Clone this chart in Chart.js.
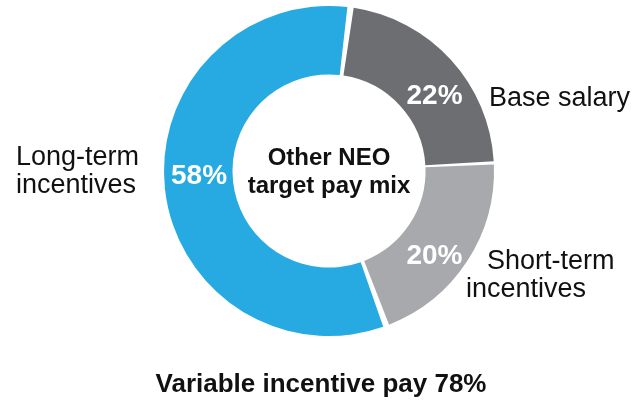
<!DOCTYPE html>
<html>
<head>
<meta charset="utf-8">
<script src="https://cdn.jsdelivr.net/npm/chart.js@4.4.1/dist/chart.umd.min.js"></script>
<style>
  html, body { margin: 0; padding: 0; background: #fff; }
  #wrap { width: 644px; height: 401px; }
</style>
</head>
<body>
<div id="wrap"><canvas id="payMix" width="644" height="401"></canvas></div>
<script>
const categories = ["Base salary", "Short-term incentives", "Long-term incentives"];
const payShares = [22, 20, 58];
const sliceColors = ["#6d6e72", "#a7a9ac", "#27aae1"];
const centerLines = ["Other NEO", "target pay mix"];
const footerText = "Variable incentive pay 78%";

const FONT = "'Liberation Sans', Arial, Helvetica, sans-serif";

// white percent labels inside each slice, nudged a bit off the mid point
const pctNudge = [[9, 13], [-4, 14], [0, -9]];

// outside category labels, split on lines as in the picture
const sideLabels = [
  { lines: ["Base salary"], x: [489], y: 106 },
  { lines: ["Short-term", "incentives"], x: [487, 466], y: 269 },
  { lines: ["Long-term", "incentives"], x: [16, 16], y: 165 },
];

const textPlugin = {
  id: "textPlugin",
  afterDraw(chart) {
    const ctx = chart.ctx;
    const arcs = chart.getDatasetMeta(0).data;
    ctx.save();

    // percentages
    ctx.fillStyle = "#ffffff";
    ctx.font = "bold 28px " + FONT;
    ctx.textAlign = "center";
    ctx.textBaseline = "middle";
    arcs.forEach((arc, i) => {
      const p = arc.tooltipPosition();
      ctx.fillText(payShares[i] + "%", p.x + pctNudge[i][0], p.y + pctNudge[i][1]);
    });

    // category labels
    ctx.fillStyle = "#111111";
    ctx.font = "27px " + FONT;
    ctx.textAlign = "left";
    ctx.textBaseline = "alphabetic";
    sideLabels.forEach((lab) => {
      lab.lines.forEach((line, j) => {
        ctx.fillText(line, lab.x[j], lab.y + j * 28);
      });
    });

    // center text
    const cx = (chart.chartArea.left + chart.chartArea.right) / 2;
    const cy = (chart.chartArea.top + chart.chartArea.bottom) / 2;
    ctx.font = "bold 24px " + FONT;
    ctx.textAlign = "center";
    centerLines.forEach((line, j) => {
      ctx.fillText(line, cx, cy - 6 + j * 28);
    });

    // footer
    ctx.font = "bold 26px " + FONT;
    ctx.fillText(footerText, 321, 392);
    ctx.restore();
  },
};

const payMixChart = new Chart(document.getElementById("payMix"), {
  type: "doughnut",
  data: {
    labels: categories,
    datasets: [
      {
        data: payShares,
        backgroundColor: sliceColors,
        borderWidth: 0,
        spacing: 4,
      },
    ],
  },
  options: {
    responsive: false,
    animation: false,
    rotation: 8,
    radius: 163,
    cutout: "58%",
    layout: { padding: { left: 164, right: 150, top: 6, bottom: 65 } },
    plugins: {
      legend: { display: false },
      tooltip: { enabled: false },
    },
  },
  plugins: [textPlugin],
});
</script>
</body>
</html>
